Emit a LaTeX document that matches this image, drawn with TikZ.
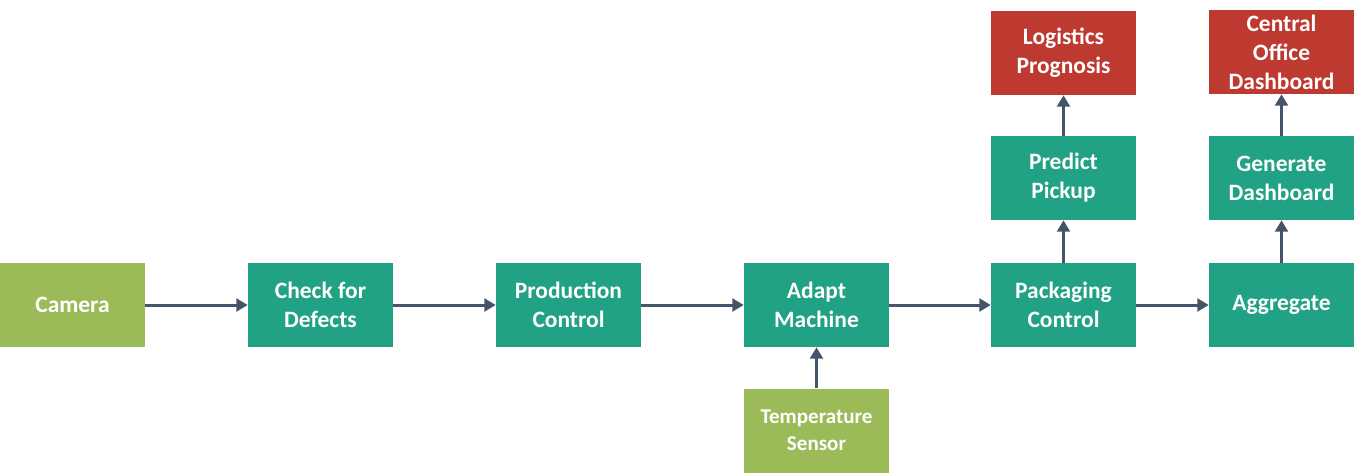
\documentclass[tikz,border=0pt]{standalone}
\usepackage{fontspec}
\setmainfont{Carlito}
\usepackage{tikz}
\usetikzlibrary{%
	arrows.meta,%
	positioning
}
\definecolor{procteal}{HTML}{21A284}
\definecolor{srcgreen}{HTML}{9BBB59}
\definecolor{outred}{HTML}{BE3A30}
\definecolor{linkgray}{HTML}{44546A}

\begin{document}
\begin{tikzpicture}[x=0.75pt, y=-0.75pt,
	box/.style={minimum width=108.75pt, minimum height=63pt, inner sep=0pt, align=center, text=white, font=\fontsize{17.6}{21.75}\selectfont\bfseries},
	proc/.style={box, fill=procteal},
	src/.style={box, fill=srcgreen},
	outbox/.style={box, fill=outred},
	link/.style={draw=linkgray, line width=2.25pt, -{Triangle[length=8.5pt, width=9.5pt]}}]
	\useasboundingbox (0,0) rectangle (1354,472);
	% Boxes
	\node[src] (camera) at (72.5,305) {Camera};
	\node[proc] (check) at (320.5,305) {Check for\\Defects};
	\node[proc] (prodctrl) at (568.5,305) {Production\\Control};
	\node[proc] (adapt) at (816.5,305) {Adapt\\Machine};
	\node[proc] (packctrl) at (1063.5,305) {Packaging\\Control};
	\node[proc] (aggregate) at (1281.5,305) {Aggregate};
	\node[src, font=\fontsize{15.8}{20}\selectfont\bfseries] (tempsensor) at (816.5,430.5) {Temperature\\Sensor};
	\node[proc] (predict) at (1063.5,178) {Predict\\Pickup};
	\node[outbox] (logistics) at (1063.5,53) {Logistics\\Prognosis};
	\node[proc] (gendash) at (1281.5,178) {Generate\\Dashboard};
	\node[outbox] (central) at (1281.5,52) {Central\\Office\\Dashboard};
	% Arrows
	\draw[link] (camera) -- (check);
	\draw[link] (check) -- (prodctrl);
	\draw[link] (prodctrl) -- (adapt);
	\draw[link] (adapt) -- (packctrl);
	\draw[link] (packctrl) -- (aggregate);
	\draw[link] (tempsensor) -- (adapt);
	\draw[link] (packctrl) -- (predict);
	\draw[link] (predict) -- (logistics);
	\draw[link] (aggregate) -- (gendash);
	\draw[link] (gendash) -- (central);
\end{tikzpicture}
\end{document}
